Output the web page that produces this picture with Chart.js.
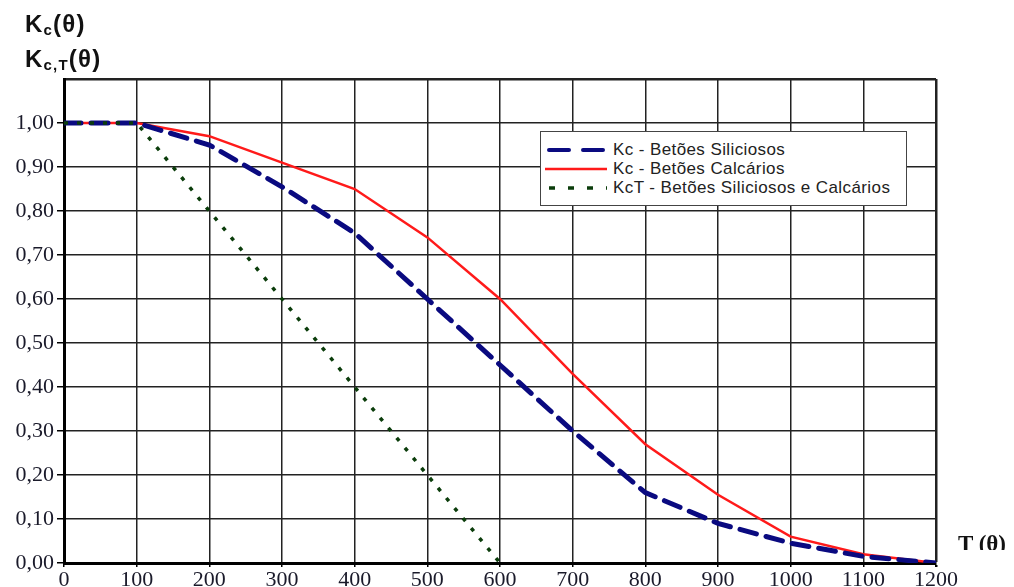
<!DOCTYPE html>
<html>
<head>
<meta charset="utf-8">
<script src="https://cdn.jsdelivr.net/npm/chart.js@4.4.0/dist/chart.umd.min.js"></script>
<style>
  body { margin: 0; background: #fff; }
  #wrap { position: relative; width: 1014px; height: 587px; overflow: hidden; }
  .ttl { position: absolute; font-family: "Liberation Sans", Arial, sans-serif; font-weight: bold; font-size: 24px; color: #111; line-height: 1; letter-spacing: 1.2px; }
  .ttl sub { font-size: 15px; vertical-align: -3px; }
  #tx { position: absolute; left: 958px; top: 531px; height: 19px; overflow: hidden; font-family: "Liberation Serif", "Times New Roman", serif; font-weight: bold; font-size: 23px; color: #111; white-space: nowrap; line-height: 1.1; }
  #legend { position: absolute; left: 540px; top: 131px; width: 365px; height: 73px; border: 1px solid #444; background: #fff; font-family: "Liberation Sans", Arial, sans-serif; font-size: 17px; letter-spacing: 0.4px; color: #222; }
  .row { position: absolute; left: 4px; height: 19px; display: flex; align-items: center; white-space: nowrap; }
  .row svg { width: 62px; height: 10px; margin-right: 6px; }
</style>
</head>
<body>
<div id="wrap">
  <canvas id="chart"></canvas>
  <div class="ttl" style="left:25px; top:12px;">K<sub>c</sub>(θ)</div>
  <div class="ttl" style="left:25px; top:47px;">K<sub>c,T</sub>(θ)</div>
  <div id="tx">T (θ)</div>
  <div id="legend">
    <div class="row" style="top:8px;"><svg><line x1="4" y1="5" x2="60" y2="5" stroke="#0a0a80" stroke-width="4" stroke-linecap="round" stroke-dasharray="20 14"/></svg>Kc - Betões Siliciosos</div>
    <div class="row" style="top:27px;"><svg><line x1="0" y1="5" x2="62" y2="5" stroke="#ff1a1a" stroke-width="2.5"/></svg>Kc - Betões Calcários</div>
    <div class="row" style="top:46px;"><svg><line x1="4" y1="5" x2="62" y2="5" stroke="#0b3d0b" stroke-width="3.5" stroke-dasharray="6 13"/></svg>KcT - Betões Siliciosos e Calcários</div>
  </div>
</div>
<script>
// temperatures (deg C)
var temps = [0, 100, 200, 300, 400, 500, 600, 700, 800, 900, 1000, 1100, 1200];
// Kc - siliceous concrete
var kcSil = [1.00, 1.00, 0.95, 0.855, 0.75, 0.60, 0.45, 0.30, 0.16, 0.09, 0.045, 0.015, 0.00];
// Kc - calcareous concrete
var kcCal = [1.00, 1.00, 0.97, 0.91, 0.85, 0.74, 0.60, 0.43, 0.27, 0.155, 0.06, 0.02, 0.00];
// KcT - tensile, both types
var kcT = [1.00, 1.00, 0.80, 0.60, 0.40, 0.20, 0.00, null, null, null, null, null, null];

function pts(vals) {
  return temps.map(function (t, i) { return {x: t, y: vals[i]}; });
}

var ctx = document.getElementById('chart').getContext('2d');
new Chart(ctx, {
  type: 'line',
  data: {
    datasets: [
      {
        label: 'KcT - Betões Siliciosos e Calcários',
        data: pts(kcT),
        borderColor: '#0b3d0b',
        borderWidth: 3.5,
        borderDash: [4, 9],
        pointRadius: 0,
        spanGaps: false
      },
      {
        label: 'Kc - Betões Siliciosos',
        data: pts(kcSil),
        borderColor: '#0a0a80',
        borderWidth: 5,
        borderDash: [17, 10],
        borderCapStyle: 'round',
        pointRadius: 0
      },
      {
        label: 'Kc - Betões Calcários',
        data: pts(kcCal),
        borderColor: '#ff1a1a',
        borderWidth: 2.5,
        pointRadius: 0
      }
    ]
  },
  options: {
    responsive: true,
    maintainAspectRatio: false,
    animation: false,
    layout: { padding: { top: 79, right: 78, left: 0, bottom: 0 } },
    plugins: { legend: { display: false }, tooltip: { enabled: false } },
    scales: {
      x: {
        type: 'linear',
        min: 0,
        max: 1200,
        afterFit: function (s) { s.height = 24; },
        ticks: {
          stepSize: 100,
          padding: 0,
          color: '#1a1a2a',
          font: { family: '"Liberation Serif", "Times New Roman", serif', size: 22 },
          maxRotation: 0,
          callback: function (v) { return String(v); }
        },
        grid: {
          color: '#222',
          lineWidth: function (c) { return c.index === 12 ? 2.5 : 1.5; },
          tickLength: 4,
          tickColor: '#000'
        },
        border: { color: '#000', width: 3 }
      },
      y: {
        min: 0,
        max: 1.1,
        afterFit: function (s) { s.width = 64; },
        ticks: {
          stepSize: 0.1,
          padding: 3,
          color: '#1a1a2a',
          font: { family: '"Liberation Serif", "Times New Roman", serif', size: 22 },
          callback: function (v, i) { return i === 11 ? '' : v.toFixed(2).replace('.', ','); }
        },
        grid: {
          color: '#222',
          lineWidth: function (c) { return c.index === 11 ? 2.5 : 1.5; },
          tickLength: 7,
          tickColor: function (c) { return c.index === 11 ? 'rgba(0,0,0,0)' : '#000'; }
        },
        border: { color: '#000', width: 3 }
      }
    }
  }
});
</script>
</body>
</html>
